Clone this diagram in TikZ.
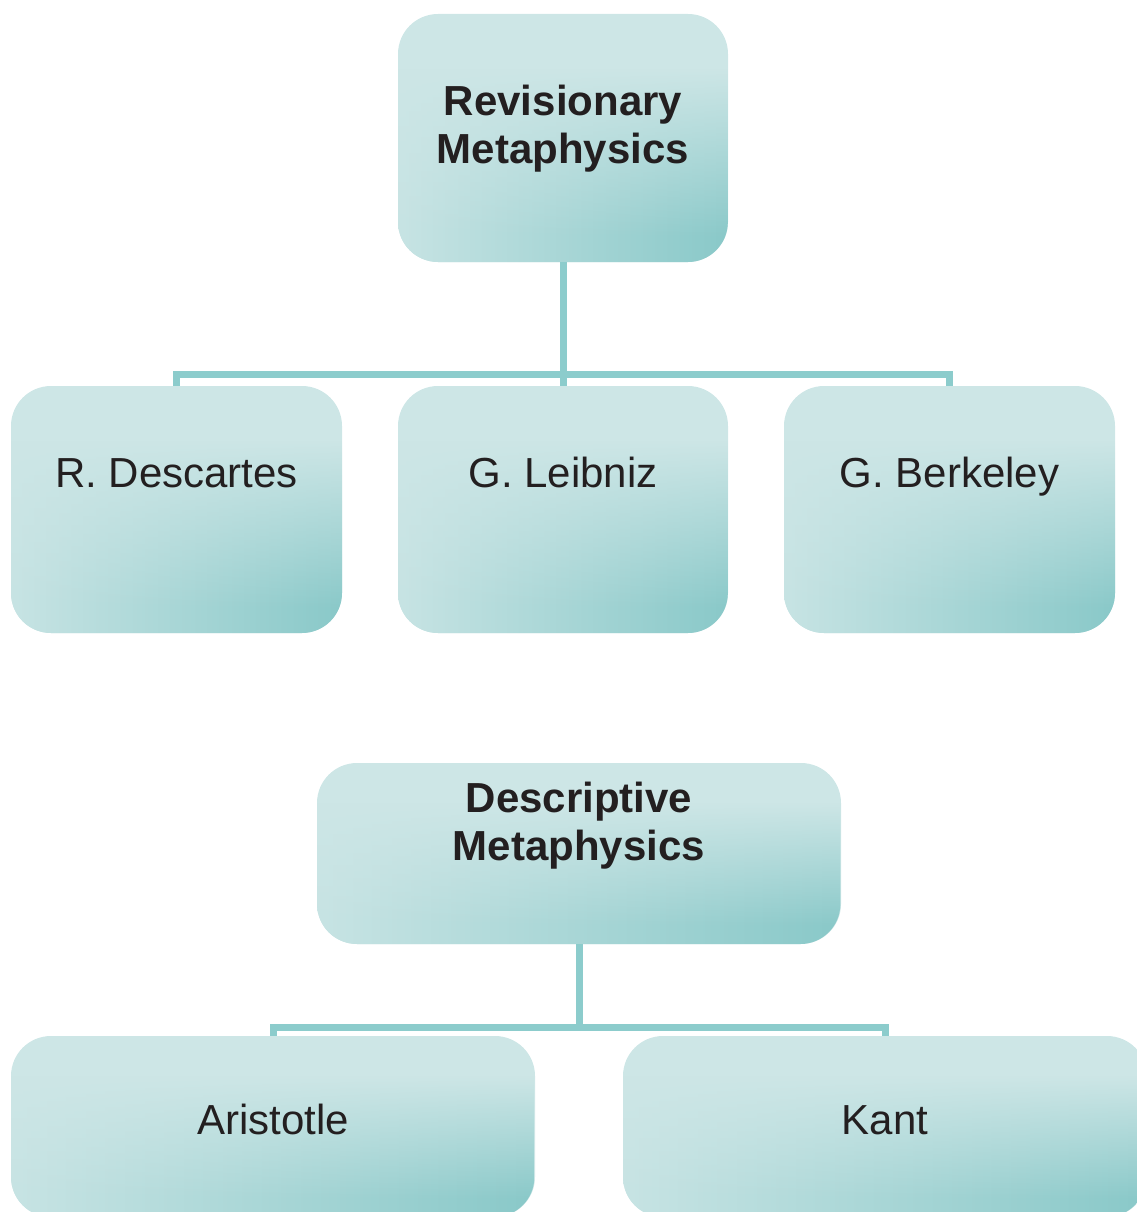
\documentclass[tikz,border=0pt]{standalone}
\usepackage{fontspec}
\setmainfont{Liberation Sans}
\usetikzlibrary{fadings}
\definecolor{boxlight}{HTML}{CDE6E6}
\definecolor{boxdark}{HTML}{88C8C8}
\definecolor{conncol}{HTML}{8CCCCC}
\definecolor{txtcol}{HTML}{231F20}
\pgfdeclarehorizontalshading{hshade}{100bp}{color(0bp)=(boxlight); color(20bp)=(boxlight); color(76bp)=(boxdark); color(100bp)=(boxdark)}
\pgfdeclareverticalshading{vfadesh}{100bp}{color(0bp)=(white); color(30bp)=(white); color(64bp)=(black); color(100bp)=(black)}
\pgfdeclarefading{vfade}{\pgfuseshading{vfadesh}}
\begin{document}
\begin{tikzpicture}[x=1pt,y=-1pt,
  box/.style={rounded corners=40pt, fill=boxlight, inner sep=0pt, draw=none,
    path picture={\shade[shading=hshade, path fading=vfade] (path picture bounding box.south west) rectangle (path picture bounding box.north east);}},
  conn/.style={draw=conncol, line width=7pt},
  hdr/.style={font=\fontsize{42}{48}\selectfont\bfseries, text=txtcol, align=center, anchor=base, inner sep=0pt},
  lbl/.style={font=\fontsize{42}{48}\selectfont, text=txtcol, anchor=base, inner sep=0pt}]
\useasboundingbox (0,0) rectangle (1137,1212);
\clip (0,0) rectangle (1137,1212);
% boxes
\node[box, minimum width=330pt, minimum height=248pt] (top) at (563,138) {};
\node[box, minimum width=331pt, minimum height=247pt] (desc) at (176.5,509.5) {};
\node[box, minimum width=330pt, minimum height=247pt] (leib) at (563,509.5) {};
\node[box, minimum width=331pt, minimum height=247pt] (berk) at (949.5,509.5) {};
\node[box, minimum width=524pt, minimum height=181pt] (descr) at (579,853.5) {};
\node[box, minimum width=524pt, minimum height=181pt] (arist) at (273,1126.5) {};
\node[box, minimum width=524pt, minimum height=181pt] (kant) at (885,1126.5) {};
% texts
\node[hdr] (toptxt) at (563,164) {Revisionary\\Metaphysics};
\node[lbl] (desctxt) at (176.5,487) {R. Descartes};
\node[lbl] (leibtxt) at (563,487) {G. Leibniz};
\node[lbl] (berktxt) at (949.5,487) {G. Berkeley};
\node[hdr] (descrtxt) at (579,860) {Descriptive\\Metaphysics};
\node[lbl] (aristtxt) at (273,1134) {Aristotle};
\node[lbl] (kanttxt) at (885,1134) {Kant};
% connectors
\coordinate (bus1) at (563,374);
\coordinate (bus2) at (579,1027);
\draw[conn] (top.south) -- (bus1);
\draw[conn] (desc.north) |- (bus1) -| (berk.north);
\draw[conn] (bus1) -- (leib.north);
\draw[conn] (descr.south) -- (bus2);
\draw[conn] (arist.north) |- (bus2) -| (kant.north);
\end{tikzpicture}
\end{document}
